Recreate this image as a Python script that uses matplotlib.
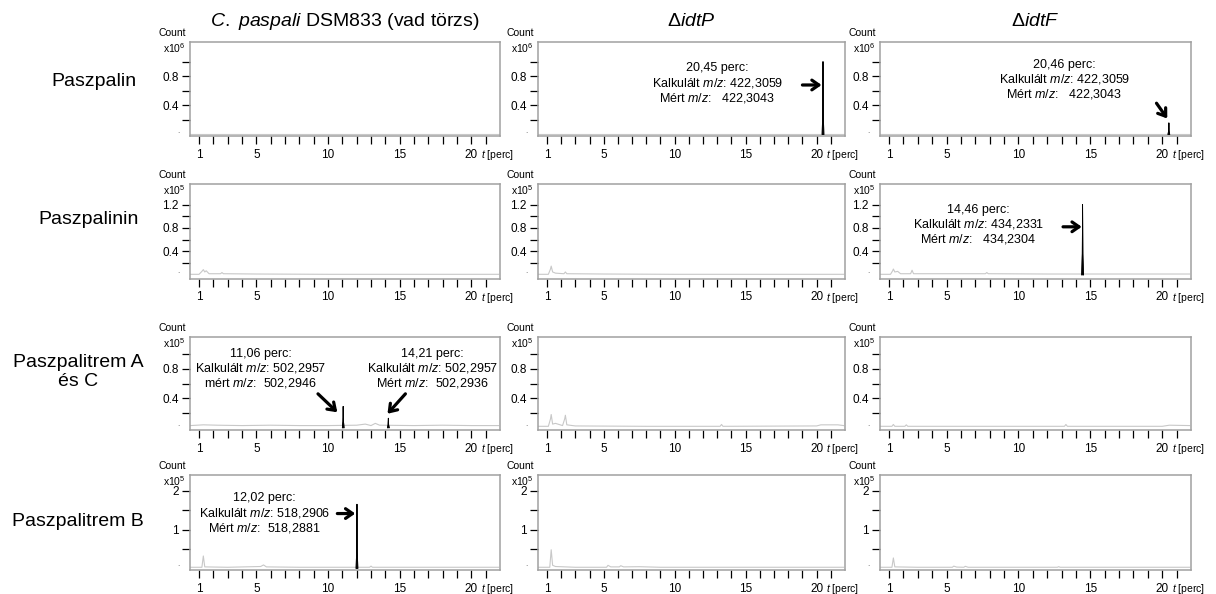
import numpy as np
import matplotlib
matplotlib.use('Agg')
import matplotlib.pyplot as plt
from matplotlib.ticker import FixedLocator

plt.rcParams['font.family'] = ['Liberation Sans', 'DejaVu Sans']
plt.rcParams['mathtext.fontset'] = 'custom'
plt.rcParams['mathtext.rm'] = 'Liberation Sans'
plt.rcParams['mathtext.it'] = 'Liberation Sans:italic'

# --- adatok ---
oszlop_cimek = [r'$\mathit{C.}$ $\mathit{paspali}$ DSM833 (vad törzs)', r'Δ$\mathit{idtP}$', r'Δ$\mathit{idtF}$']
sor_cimek = ['Paszpalin', 'Paszpalinin', 'Paszpalitrem A\nés C', 'Paszpalitrem B']
kitevok = [6, 5, 5, 5]
y_hatarok = [(-0.02, 1.27), (-0.07, 1.55), (-0.03, 1.23), (-0.04, 2.4)]
y_fo_tickek = [[0.4, 0.8], [0.4, 0.8, 1.2], [0.4, 0.8], [1, 2]]
y_mellek_tickek = [[0.2, 0.6, 1.0], [0.2, 0.6, 1.0], [0.2, 0.6, 1.0], [0.5, 1.5]]
x_tickek = list(range(1, 22))
x_cimkek = {1: '1', 5: '5', 10: '10', 15: '15', 20: '20'}

# alapvonalak (szürke), soronként / oszloponként
t_r1c1 = [0.4, 21.9]
y_r1c1 = [0.004, 0.004]
t_r1c2 = [0.4, 21.9]
y_r1c2 = [0.004, 0.004]
t_r1c3 = [0.4, 21.9]
y_r1c3 = [0.004, 0.004]

t_r2c1 = [0.4, 1.0, 1.2, 1.3, 1.4, 1.5, 1.7, 2.5, 2.6, 2.7, 5.0, 10.0, 15.0, 21.9]
y_r2c1 = [0.01, 0.01, 0.06, 0.09, 0.05, 0.07, 0.02, 0.02, 0.04, 0.02, 0.015, 0.01, 0.01, 0.01]
t_r2c2 = [0.4, 1.1, 1.25, 1.3, 1.4, 1.6, 2.2, 2.3, 2.4, 5.0, 10.0, 15.0, 21.9]
y_r2c2 = [0.01, 0.01, 0.10, 0.15, 0.05, 0.03, 0.02, 0.05, 0.02, 0.015, 0.01, 0.01, 0.01]
t_r2c3 = [0.4, 1.1, 1.25, 1.3, 1.4, 1.6, 1.8, 2.5, 2.6, 2.7, 7.7, 7.8, 7.9, 12.0, 21.9]
y_r2c3 = [0.01, 0.01, 0.07, 0.10, 0.05, 0.06, 0.02, 0.02, 0.08, 0.02, 0.02, 0.04, 0.02, 0.015, 0.015]

t_r3c1 = [0.4, 1.3, 2.3, 4.0, 6.0, 8.0, 10.0, 12.0, 12.6, 13.0, 13.3, 13.6, 16.0, 18.0, 20.0, 21.9]
y_r3c1 = [0.03, 0.04, 0.035, 0.03, 0.035, 0.03, 0.03, 0.035, 0.05, 0.03, 0.06, 0.035, 0.03, 0.035, 0.03, 0.03]
t_r3c2 = [0.4, 1.1, 1.25, 1.3, 1.4, 1.6, 2.1, 2.25, 2.3, 2.4, 3.0, 8.0, 13.2, 13.3, 13.4, 20.0, 20.3, 21.5, 21.9]
y_r3c2 = [0.02, 0.02, 0.12, 0.18, 0.05, 0.06, 0.03, 0.12, 0.17, 0.04, 0.025, 0.02, 0.02, 0.045, 0.02, 0.025, 0.04, 0.04, 0.03]
t_r3c3 = [0.4, 1.2, 1.3, 1.4, 2.1, 2.2, 2.3, 8.0, 13.2, 13.3, 13.4, 20.0, 20.5, 21.9]
y_r3c3 = [0.02, 0.02, 0.045, 0.02, 0.02, 0.04, 0.02, 0.02, 0.02, 0.045, 0.02, 0.02, 0.035, 0.03]

t_r4c1 = [0.4, 1.2, 1.3, 1.4, 3.0, 5.3, 5.5, 5.7, 8.0, 12.9, 13.0, 13.1, 18.0, 21.9]
y_r4c1 = [0.03, 0.03, 0.32, 0.04, 0.03, 0.05, 0.09, 0.04, 0.03, 0.03, 0.06, 0.03, 0.03, 0.03]
t_r4c2 = [0.4, 1.2, 1.3, 1.4, 1.6, 3.0, 5.2, 5.3, 5.5, 6.1, 6.2, 6.4, 7.5, 9.0, 21.9]
y_r4c2 = [0.03, 0.03, 0.48, 0.08, 0.05, 0.03, 0.03, 0.08, 0.04, 0.04, 0.07, 0.04, 0.045, 0.03, 0.03]
t_r4c3 = [0.4, 1.2, 1.3, 1.4, 3.0, 5.4, 5.5, 5.7, 6.2, 6.3, 6.5, 12.7, 12.8, 12.9, 21.9]
y_r4c3 = [0.03, 0.03, 0.27, 0.04, 0.03, 0.03, 0.06, 0.035, 0.03, 0.055, 0.03, 0.03, 0.045, 0.03, 0.03]

alapvonalak = [
    [(t_r1c1, y_r1c1), (t_r1c2, y_r1c2), (t_r1c3, y_r1c3)],
    [(t_r2c1, y_r2c1), (t_r2c2, y_r2c2), (t_r2c3, y_r2c3)],
    [(t_r3c1, y_r3c1), (t_r3c2, y_r3c2), (t_r3c3, y_r3c3)],
    [(t_r4c1, y_r4c1), (t_r4c2, y_r4c2), (t_r4c3, y_r4c3)],
]

# csúcsok: (sor, oszlop, idő, magasság)
csucs_sor = [0, 0, 1, 2, 2, 3]
csucs_oszlop = [1, 2, 2, 0, 0, 0]
csucs_ido = [20.45, 20.46, 14.46, 11.06, 14.21, 12.02]
csucs_magassag = [1.0, 0.16, 1.2, 0.29, 0.13, 1.65]
csucs_forma_dt = [-0.06, -0.02, 0.0, 0.02, 0.06]
csucs_forma_rel = [0.0, 0.3, 1.0, 0.3, 0.0]

# feliratok: (sor, oszlop, x, y, szöveg)
felirat_sor = [0, 0, 1, 2, 2, 3]
felirat_oszlop = [1, 2, 2, 0, 0, 0]
felirat_x = [13.0, 13.2, 7.2, 5.3, 17.3, 5.55]
felirat_y = [0.70, 0.745, 0.85, 0.80, 0.80, 1.41]
felirat_szoveg = [
    '20,45 perc:\nKalkulált $\\mathit{m/z}$: 422,3059\nMért $\\mathit{m/z}$:   422,3043',
    '20,46 perc:\nKalkulált $\\mathit{m/z}$: 422,3059\nMért $\\mathit{m/z}$:   422,3043',
    '14,46 perc:\nKalkulált $\\mathit{m/z}$: 434,2331\nMért $\\mathit{m/z}$:   434,2304',
    '11,06 perc:\nKalkulált $\\mathit{m/z}$: 502,2957\nmért $\\mathit{m/z}$:  502,2946',
    '14,21 perc:\nKalkulált $\\mathit{m/z}$: 502,2957\nMért $\\mathit{m/z}$:  502,2936',
    '12,02 perc:\nKalkulált $\\mathit{m/z}$: 518,2906\nMért $\\mathit{m/z}$:  518,2881',
]

# nyilak: (sor, oszlop, farok, fej)
nyil_sor = [0, 0, 1, 2, 2, 3]
nyil_oszlop = [1, 2, 2, 0, 0, 0]
nyil_farok = [(19.0, 0.68), (19.6, 0.43), (13.1, 0.82), (9.3, 0.46), (15.4, 0.46), (10.65, 1.41)]
nyil_fej = [(20.35, 0.68), (20.35, 0.22), (14.4, 0.82), (10.65, 0.21), (14.15, 0.19), (11.9, 1.41)]

# --- elrendezés (pixelben) ---
W, H = 1216, 594
oszlop_bal = [190, 538, 880]
oszlop_jobb = [500, 845, 1191]
sor_felso = [42, 184, 337, 475]
sor_also = [136, 279, 430, 570]
sor_cim_x = [94, 89, 78, 78]
sor_cim_y = [81, 220, 372, 522]

fig = plt.figure(figsize=(W / 100, H / 100), dpi=100)
tengelyek = [[None] * 3 for _ in range(4)]

for i in range(4):
    for j in range(3):
        l, r = oszlop_bal[j], oszlop_jobb[j]
        t, b = sor_felso[i], sor_also[i]
        ax = fig.add_axes([l / W, 1 - b / H, (r - l) / W, (b - t) / H])
        tengelyek[i][j] = ax
        tt, yy = alapvonalak[i][j]
        ax.plot(tt, yy, color='#c8c8c8', lw=0.8, zorder=2)
        ax.set_xlim(0.37, 22.0)
        ax.set_ylim(*y_hatarok[i])
        for s in ax.spines.values():
            s.set_color('#a0a0a0')
            s.set_linewidth(1.1)
        ax.xaxis.set_major_locator(FixedLocator(x_tickek))
        ax.set_xticklabels([x_cimkek.get(v, '') for v in x_tickek])
        ax.yaxis.set_major_locator(FixedLocator(y_fo_tickek[i]))
        ax.yaxis.set_minor_locator(FixedLocator(y_mellek_tickek[i]))
        ax.set_yticklabels([('%g' % v) for v in y_fo_tickek[i]])
        ax.tick_params(axis='x', direction='out', length=6, width=0.9, colors='black',
                       labelsize=8.5, pad=3)
        ax.tick_params(axis='y', which='both', direction='out', length=6, width=0.9,
                       colors='black', labelsize=8.5, pad=2)
        ax.tick_params(axis='y', which='minor', labelleft=False)
        ax.annotate('$t$ [perc]', xy=(20.65, 0), xycoords=('data', 'axes fraction'),
                    xytext=(0, -8.5), textcoords='offset points', ha='left', va='top',
                    fontsize=7.5)
        ax.annotate('.', xy=(0, 0), xycoords=('axes fraction', 'data'),
                    xytext=(-8, 0), textcoords='offset points', ha='center', va='bottom',
                    fontsize=6, color='#555555')
        fig.text((l - 4) / W, 1 - (t - 9) / H, 'Count', ha='right', va='center', fontsize=7.5)
        fig.text((l - 4) / W, 1 - (t + 6) / H, 'x10$^{%d}$' % kitevok[i], ha='right',
                 va='center', fontsize=7.5)

for k in range(len(csucs_ido)):
    ax = tengelyek[csucs_sor[k]][csucs_oszlop[k]]
    px = [csucs_ido[k] + d for d in csucs_forma_dt]
    py = [csucs_magassag[k] * f for f in csucs_forma_rel]
    ax.fill(px, py, color='black', lw=0.6, zorder=3)
    ax.plot(px, py, color='black', lw=0.6, zorder=3)

for k in range(len(felirat_szoveg)):
    ax = tengelyek[felirat_sor[k]][felirat_oszlop[k]]
    ax.text(felirat_x[k], felirat_y[k], felirat_szoveg[k], ha='center', va='center',
            multialignment='center', fontsize=9, linespacing=1.1)

for k in range(len(nyil_farok)):
    ax = tengelyek[nyil_sor[k]][nyil_oszlop[k]]
    ax.annotate('', xy=nyil_fej[k], xytext=nyil_farok[k],
                arrowprops=dict(arrowstyle='->,head_length=0.5,head_width=0.35',
                                lw=2.3, color='black', shrinkA=0, shrinkB=0))

for j in range(3):
    xc = (oszlop_bal[j] + oszlop_jobb[j]) / 2
    fig.text(xc / W, 1 - 21 / H, oszlop_cimek[j], ha='center', va='center', fontsize=14)

for i in range(4):
    fig.text(sor_cim_x[i] / W, 1 - sor_cim_y[i] / H, sor_cimek[i], ha='center',
             va='center', fontsize=14, multialignment='center', linespacing=1.15)

fig.savefig('out.png', dpi=100)
